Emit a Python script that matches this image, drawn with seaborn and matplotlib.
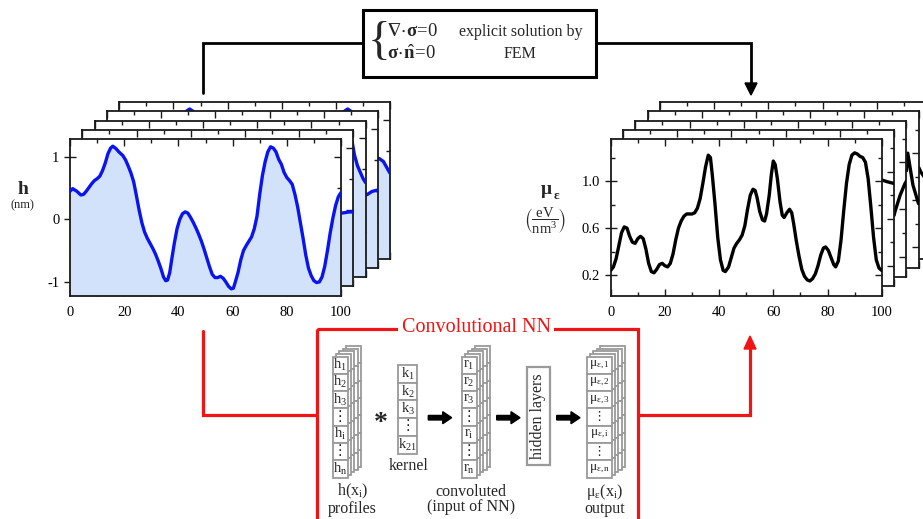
import numpy as np
import pandas as pd
import matplotlib
matplotlib.use("Agg")
import matplotlib.pyplot as plt
import matplotlib.lines as mlines
from matplotlib.patches import Rectangle, FancyArrow, Polygon
import seaborn as sns

# ---------------- data ----------------
x_h = [0, 1, 2.5, 4, 5, 6, 7, 8, 9, 10, 11, 12, 13, 14, 15, 15.8, 17, 18, 19.5, 20.5, 21.5, 22.5,
       23.5, 24.5, 25.5, 26.5, 27.5, 28.5, 29.5, 30.5, 31.5, 32.5, 33.5, 34.5, 35.3, 36, 36.8, 37.5,
       38.5, 39.5, 40.5, 41.5, 42.5, 43.5, 44.5, 45.5, 46.5, 47.5, 48.5, 49.5, 50.5, 51.5, 52.5, 53.5,
       54.5, 55.5, 56.5, 57.5, 58.5, 59.5, 60.3, 61, 62, 63, 64, 65, 66, 67, 68, 69, 70, 71, 72, 73,
       74, 75, 76, 77, 78, 79, 80, 81, 82, 83, 84, 85, 86, 87, 88, 89, 90, 91, 92, 93, 94, 95, 96,
       97, 98, 99, 100]
h_front = [0.45, 0.49, 0.45, 0.39, 0.40, 0.45, 0.51, 0.57, 0.62, 0.65, 0.69, 0.78, 0.90, 1.05, 1.14,
           1.17, 1.13, 1.08, 1.02, 0.95, 0.85, 0.74, 0.60, 0.38, 0.15, -0.05, -0.20, -0.30, -0.38,
           -0.46, -0.55, -0.66, -0.78, -0.92, -0.98, -0.97, -0.85, -0.65, -0.38, -0.15, 0.00, 0.09,
           0.12, 0.10, 0.03, -0.05, -0.14, -0.24, -0.35, -0.48, -0.62, -0.76, -0.88, -0.93, -0.93,
           -0.91, -0.94, -1.00, -1.07, -1.11, -1.10, -1.00, -0.85, -0.65, -0.50, -0.42, -0.35,
           -0.28, -0.15, 0.05, 0.40, 0.70, 0.92, 1.08, 1.16, 1.14, 1.08, 0.96, 0.88, 0.75, 0.67,
           0.62, 0.56, 0.40, 0.20, -0.05, -0.30, -0.57, -0.78, -0.90, -0.98, -1.01, -1.00, -0.92,
           -0.75, -0.50, -0.22, 0.02, 0.22, 0.36, 0.43]

x_mu = [0, 1, 2, 3, 4, 5, 6, 7, 8, 9, 10, 11, 12, 13, 14, 15, 16, 17, 18, 19, 20, 21, 22, 23, 24,
        25, 26, 27, 28, 29, 30, 31, 32, 33, 34, 35, 36, 36.8, 37.5, 38.5, 39.5, 40.5, 41.5, 42.3,
        43.5, 44.5, 45.5, 46.5, 47.5, 48.5, 49.5, 50.5, 51.5, 52.5, 53.3, 54, 55, 56, 56.8, 57.5,
        58.5, 59.3, 60, 60.7, 61.5, 62.5, 63.3, 64, 65, 66, 66.8, 67.5, 68.5, 69.5, 70.5, 71.5,
        72.5, 73.5, 74.5, 75.5, 76.5, 77.5, 78.5, 79.3, 80.3, 81.3, 82.3, 83, 84, 85, 86, 87, 88,
        89, 90, 91, 92, 93, 94, 95, 96, 97, 98, 99, 100]
mu_front = [0.24, 0.27, 0.34, 0.45, 0.56, 0.61, 0.60, 0.53, 0.48, 0.47, 0.51, 0.53, 0.51, 0.42,
            0.30, 0.23, 0.22, 0.25, 0.29, 0.30, 0.28, 0.27, 0.30, 0.38, 0.50, 0.60, 0.66, 0.70,
            0.72, 0.72, 0.72, 0.73, 0.77, 0.85, 0.98, 1.12, 1.22, 1.20, 1.05, 0.80, 0.52, 0.33,
            0.24, 0.23, 0.27, 0.35, 0.43, 0.47, 0.50, 0.54, 0.62, 0.76, 0.88, 0.93, 0.92, 0.86,
            0.74, 0.67, 0.66, 0.72, 0.88, 1.06, 1.17, 1.14, 1.02, 0.82, 0.71, 0.69, 0.73, 0.76,
            0.73, 0.64, 0.49, 0.36, 0.25, 0.19, 0.16, 0.15, 0.17, 0.21, 0.28, 0.37, 0.43, 0.44,
            0.41, 0.35, 0.29, 0.27, 0.32, 0.50, 0.75, 0.98, 1.14, 1.22, 1.24, 1.23, 1.21, 1.20,
            1.16, 1.02, 0.78, 0.52, 0.33, 0.26, 0.24]

# back profiles (only the parts that show behind the front panel)
h_back = [
    [([95.5, 97, 98.5, 100], [-0.05, -0.04, -0.03, -0.03])],
    [([95.0, 95.9, 97.0, 98.0, 99.0, 100], [0.95, 0.73, 0.56, 0.46, 0.36, 0.29])],
    [([95.5, 96.0, 97.8, 99.6, 100], [-0.05, -0.05, 0.00, 0.02, 0.00])],
    [([23.5, 25, 26, 27, 28.5], [1.08, 1.14, 1.17, 1.14, 1.08]),
     ([81.8, 83.3, 84.3, 85.3, 86.8], [1.08, 1.14, 1.17, 1.14, 1.08]),
     ([95.5, 95.9, 97.5, 99.3, 100], [0.38, 0.38, 0.33, 0.19, 0.14])],
]
mu_back = [
    [([95.5, 97.5, 100], [0.93, 0.915, 0.90])],
    [([95.5, 95.8, 97.7, 99.5, 100], [0.55, 0.58, 0.72, 0.82, 0.84])],
    [([95.5, 96.0, 97.9, 99.7, 100], [0.85, 1.00, 0.73, 0.59, 0.57])],
    [([95.5, 96.3, 97.5], [0.80, 0.76, 0.72])],
]

x_ticks = [0, 20, 40, 60, 80, 100]
x_minor = [10, 30, 50, 70, 90]
h_ticks = [-1, 0, 1]
h_minor = [-0.5, 0.5]
mu_ticks = [0.2, 0.6, 1.0]
mu_minor = [0.4, 0.8, 1.2]
h_lim = (-1.22, 1.28)
mu_lim = (0.025, 1.355)

h_cells = ["h$_1$", "h$_2$", "h$_3$", "⋮", "h$_\\mathrm{i}$", "⋮", "h$_\\mathrm{n}$"]
k_cells = ["k$_1$", "k$_2$", "k$_3$", "⋮", "k$_{21}$"]
r_cells = ["r$_1$", "r$_2$", "r$_3$", "⋮", "r$_\\mathrm{i}$", "⋮", "r$_\\mathrm{n}$"]
mu_cells = ["μ$_{\\mathrm{ε},1}$", "μ$_{\\mathrm{ε},2}$", "μ$_{\\mathrm{ε},3}$", "⋮",
            "μ$_{\\mathrm{ε,i}}$", "⋮", "μ$_{\\mathrm{ε,n}}$"]

# ---------------- style ----------------
sns.set_style("ticks")
FAM = ['Liberation Serif', 'DejaVu Sans']
plt.rcParams['font.family'] = FAM
plt.rcParams['axes.unicode_minus'] = False
plt.rcParams['mathtext.fontset'] = 'custom'
plt.rcParams['mathtext.rm'] = 'Liberation Serif'
plt.rcParams['mathtext.it'] = 'Liberation Serif:italic'
plt.rcParams['mathtext.bf'] = 'Liberation Serif:bold'
plt.rcParams['mathtext.fallback'] = 'stix'

BLUE = '#0a14f0'
FILL = '#d3e2fb'
RED = '#f01414'
GRAY = '#9a9a9a'
AXC = '#1a1a1a'

W, H = 923, 519
fig = plt.figure(figsize=(W / 100, H / 100), dpi=100)


def rect(l, t, w, h):
    return [l / W, 1 - (t + h) / H, w / W, h / H]


PW, PH = 271, 156.4
DX, DY = 12.3, -9.3


def setup(ax, ylim, yt, ytm, front):
    ax.set_xlim(0, 100)
    ax.set_ylim(*ylim)
    ax.set_xticks(x_ticks)
    ax.set_xticks(x_minor, minor=True)
    ax.set_yticks(yt)
    ax.set_yticks(ytm, minor=True)
    ax.set_xlabel('')
    ax.set_ylabel('')
    ax.set_facecolor('white')
    for sp in ax.spines.values():
        sp.set_linewidth(1.3)
        sp.set_color(AXC)
        sp.set_visible(True)
    ax.tick_params(which='both', direction='in', top=True, right=True, colors=AXC, width=1.0)
    ax.tick_params(which='major', length=5)
    ax.tick_params(which='minor', length=3)
    ax.tick_params(axis='x', which='major', pad=7.5, labelsize=10.5)
    ax.tick_params(axis='y', which='major', direction='inout', length=9, pad=3.2, labelsize=10.5)
    if not front:
        ax.tick_params(labelleft=False, labelbottom=False)
    for t in ax.yaxis.get_major_ticks():
        t.tick2line.set_marker(mlines.TICKLEFT)
        t.tick2line.set_markersize(5)
    for lab in ax.get_xticklabels() + ax.get_yticklabels():
        lab.set_color('black')


def draw_stack(x0, ylim, yt, ytm, front_x, front_y, back, color, fill):
    for k in range(4, -1, -1):
        ax = fig.add_axes(rect(x0 + DX * k, 139.3 + DY * k, PW, PH))
        ax.set_zorder(10 - k)
        if k == 0:
            df = pd.DataFrame({'x': front_x, 'y': front_y})
            if fill:
                ax.fill_between(df['x'], df['y'], ylim[0], color=FILL, lw=0, zorder=1)
            sns.lineplot(data=df, x='x', y='y', ax=ax, color=color, lw=2.4, sort=False, zorder=3)
        else:
            rows = []
            for si, (xs, ys) in enumerate(back[k - 1]):
                for xv, yv in zip(xs, ys):
                    rows.append({'x': xv, 'y': yv, 'seg': si})
            df = pd.DataFrame(rows)
            if fill:
                for si, g in df.groupby('seg'):
                    ax.fill_between(g['x'], g['y'], ylim[0], color=FILL, lw=0, zorder=1)
            sns.lineplot(data=df, x='x', y='y', units='seg', estimator=None, ax=ax,
                         color=color, lw=2.4, sort=False, zorder=3)
        setup(ax, ylim, yt, ytm, k == 0)


draw_stack(70, h_lim, h_ticks, h_minor, x_h, h_front, h_back, BLUE, True)
draw_stack(610.7, mu_lim, mu_ticks, mu_minor, x_mu, mu_front, mu_back, 'black', False)

# ---------------- overlay diagram ----------------
ov = fig.add_axes([0, 0, 1, 1])
ov.set_xlim(0, W)
ov.set_ylim(H, 0)
ov.axis('off')
ov.set_zorder(30)

# axis labels
ov.text(22.5, 189, "h", fontsize=14, fontweight='bold', ha='center', va='center')
ov.text(22, 205.5, "(nm)", fontsize=9, ha='center', va='center')
ov.text(546, 189, "μ", fontsize=14, fontweight='bold', ha='center', va='center')
ov.text(556.5, 196, "ε", fontsize=9.5, fontweight='bold', ha='center', va='center')
ov.text(545.5, 221, r"$\left(\dfrac{\mathrm{eV}}{\mathrm{nm}^3}\right)$", fontsize=10.5,
        ha='center', va='center')

# top FEM box
ov.add_patch(Rectangle((363, 9.5), 233, 67, fc='white', ec='black', lw=2.2))
ov.text(379.5, 43, "{", fontsize=34, ha='center', va='center')
ov.text(387, 31, r"$\mathbf{∇}\!\cdot\!\mathbf{σ}\!=\!0$", fontsize=13.5,
        ha='left', va='center')
ov.text(387, 54, r"$\mathbf{σ}\!\cdot\!\hat{\mathbf{n}}\!=\!0$", fontsize=13.5,
        ha='left', va='center')
ov.text(520.5, 32, "explicit solution by", fontsize=11.5, ha='center', va='center')
ov.text(520.5, 53.5, "FEM", fontsize=11.5, ha='center', va='center')

ov.plot([203, 203, 363], [93, 42.7, 42.7], color='black', lw=2.0, solid_joinstyle='miter')
ov.plot([596, 751, 751], [42.7, 42.7, 85], color='black', lw=2.0, solid_joinstyle='miter')
ov.add_patch(Polygon([(745, 83), (757, 83), (751, 95)], closed=True, fc='black', ec='black'))

# red connections
ov.plot([203, 203, 317.3], [331, 415, 415], color=RED, lw=2.3, solid_joinstyle='miter')
ov.plot([638.3, 750, 750], [415, 415, 348], color=RED, lw=2.3, solid_joinstyle='miter')
ov.add_patch(Polygon([(744, 349), (756, 349), (750, 336)], closed=True, fc=RED, ec=RED))

# red box
ov.add_patch(Rectangle((317.3, 329.3), 321, 200, fill=False, ec=RED, lw=2.3, clip_on=False))
ov.text(476, 328, "Convolutional NN", color=RED, fontsize=14.5, ha='center', va='center',
        bbox=dict(fc='white', ec='none', pad=2.5))


def column(x, y, w, ch, labels, layers, fs):
    n = len(labels)
    for k in range(layers, 0, -1):
        for i in range(n):
            ov.add_patch(Rectangle((x + 3.3 * k, y - 2.6 * k + i * ch), w, ch,
                                   fc='white', ec=GRAY, lw=1.3))
    for i, lab in enumerate(labels):
        ov.add_patch(Rectangle((x, y + i * ch), w, ch, fc='white', ec=GRAY, lw=1.3))
        ov.text(x + w / 2, y + (i + 0.5) * ch, lab, fontsize=fs, ha='center', va='center',
                family=FAM)


column(332.7, 356.5, 15, 17.3, h_cells, 4, 10.5)
column(398.3, 365, 19, 17.7, k_cells, 0, 10.5)
column(461.7, 356.5, 15, 17.3, r_cells, 4, 10.5)
column(586.7, 356.5, 25, 17.3, mu_cells, 4, 9.5)

ov.add_patch(Rectangle((526.7, 366.7), 23.3, 98.3, fc='white', ec=GRAY, lw=1.6))
ov.text(538.3, 416, "hidden layers", rotation=90, fontsize=11.5, ha='center', va='center')

ov.text(380.5, 424, "*", fontsize=20, fontweight='bold', ha='center', va='center')
for xa in [(428.3, 451.7), (496.7, 520), (556.7, 580)]:
    ov.add_patch(FancyArrow(xa[0], 417.7, xa[1] - xa[0], 0, width=4.5, head_width=12,
                            head_length=9, length_includes_head=True, fc='black', ec='black'))

ov.text(408.3, 466.5, "kernel", fontsize=11.5, ha='center', va='center')
ov.text(352.7, 499.5, "h(x$_\\mathrm{i}$)\nprofiles", fontsize=11.5, ha='center', va='center',
        linespacing=0.95)
ov.text(471, 499.5, "convoluted\n(input of NN)", fontsize=11.5, ha='center', va='center',
        linespacing=0.95)
ov.text(605, 499.5, "μ$_\\mathrm{ε}$(x$_\\mathrm{i}$)\noutput", fontsize=11.5, ha='center',
        va='center', linespacing=0.95)

fig.savefig("out.png", dpi=100)
